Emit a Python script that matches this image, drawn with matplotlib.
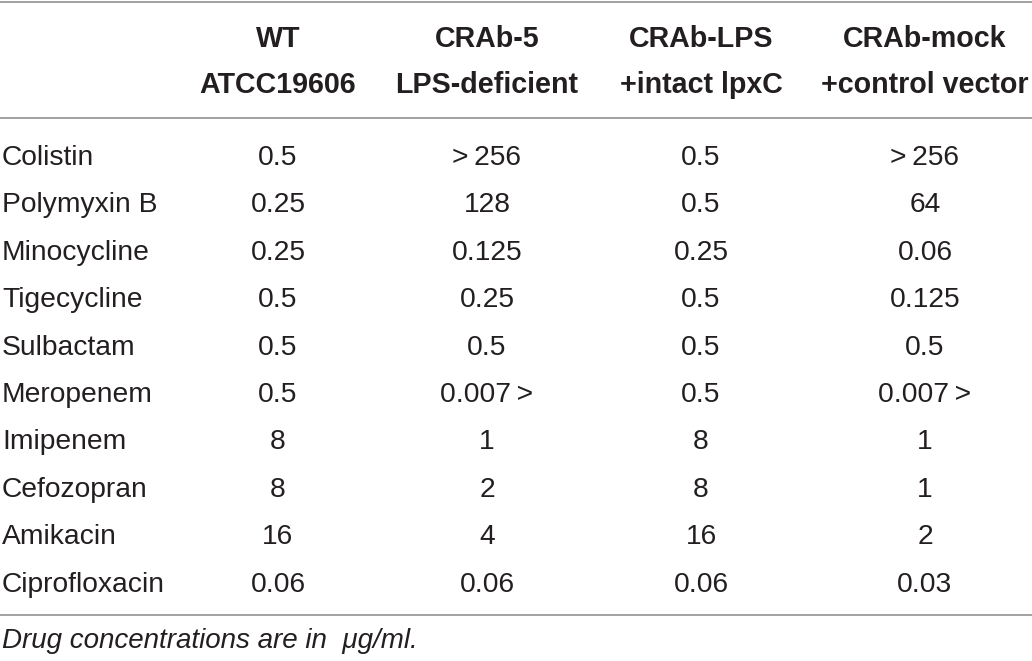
import matplotlib
matplotlib.use("Agg")
import matplotlib.pyplot as plt

plt.rcParams['font.family'] = ['Liberation Sans', 'DejaVu Sans']

# table content
header_top = ["WT", "CRAb-5", "CRAb-LPS", "CRAb-mock"]
header_bottom = ["ATCC19606", "LPS-deficient", "+intact lpxC", "+control vector"]
drugs = ["Colistin", "Polymyxin B", "Minocycline", "Tigecycline", "Sulbactam",
         "Meropenem", "Imipenem", "Cefozopran", "Amikacin", "Ciprofloxacin"]
wt = ["0.5", "0.25", "0.25", "0.5", "0.5", "0.5", "8", "8", "16", "0.06"]
crab5 = [">\u2009256", "128", "0.125", "0.25", "0.5", "0.007\u2009>", "1", "2", "4", "0.06"]
crab_lps = ["0.5", "0.5", "0.25", "0.5", "0.5", "0.5", "8", "8", "16", "0.06"]
crab_mock = [">\u2009256", "64", "0.06", "0.125", "0.5", "0.007\u2009>", "1", "1", "2", "0.03"]
footnote = "Drug concentrations are in  μg/ml."

TXT = "#231f20"
RULE = "#9a9a9a"

W, H = 1032, 661
fig = plt.figure(figsize=(W / 100, H / 100), dpi=100)
ax = fig.add_axes([0, 0, 1, 1])
ax.set_xlim(0, W)
ax.set_ylim(H, 0)
ax.axis("off")

# column layout (pixels)
col_x = [278, 487, 701, 925]
row0, row_step = 165, 47.4

# rules
for y in (2, 118, 615):
    ax.plot([0, W], [y, y], color=RULE, lw=1.3, solid_capstyle="butt")

# header
for i in range(4):
    ax.text(col_x[i], 47, header_top[i], ha="center", va="baseline",
            fontsize=20.6, fontweight="bold", color=TXT)
    ax.text(col_x[i], 93, header_bottom[i], ha="center", va="baseline",
            fontsize=20.6, fontweight="bold", color=TXT)

# body
columns = [wt, crab5, crab_lps, crab_mock]
for r, drug in enumerate(drugs):
    y = row0 + r * row_step
    ax.text(2, y, drug, ha="left", va="baseline", fontsize=20.3, color=TXT)
    for c, col in enumerate(columns):
        ax.text(col_x[c], y, col[r], ha="center", va="baseline",
                fontsize=20.3, color=TXT)

ax.text(2, 648, footnote, ha="left", va="baseline", fontsize=20,
        style="italic", color=TXT)

fig.savefig("out.png", dpi=100)
